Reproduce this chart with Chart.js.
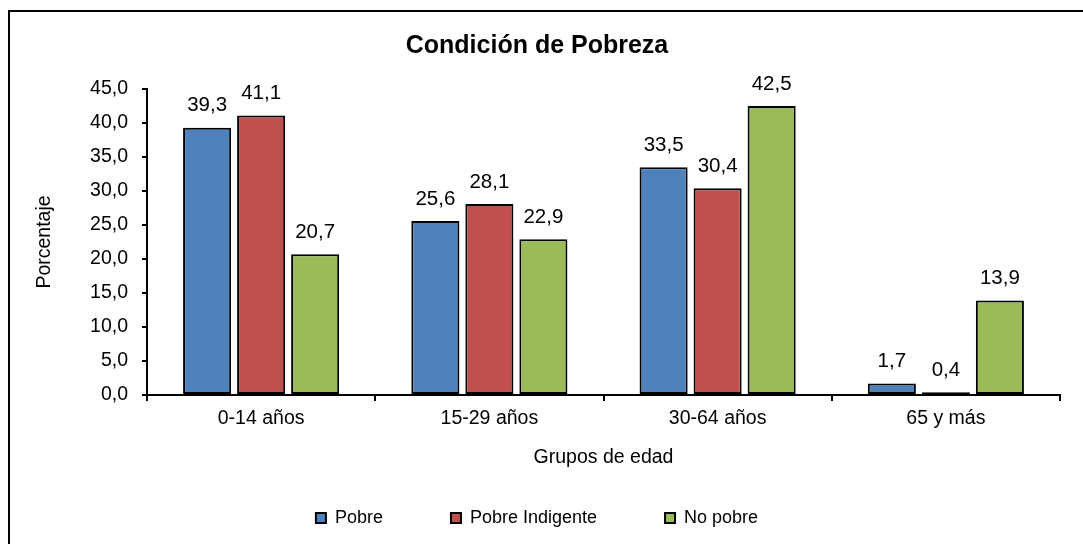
<!DOCTYPE html>
<html>
<head>
<meta charset="utf-8">
<script src="https://cdn.jsdelivr.net/npm/chart.js@4.4.1/dist/chart.umd.min.js"></script>
<style>
html, body { margin: 0; padding: 0; background: #fff; width: 1083px; height: 544px; overflow: hidden; }
#frame { position: absolute; left: 8px; top: 10px; width: 1120px; height: 600px; border: 2px solid #000; box-sizing: border-box; }
#wrap { position: absolute; left: 0; top: 0; width: 1083px; height: 544px; }
canvas { position: absolute; left: 0; top: 0; }
</style>
</head>
<body>
<div id="frame"></div>
<div id="wrap"><canvas id="c" width="1083" height="544"></canvas></div>
<script>
// ---- data ----
const categories = ['0-14 años', '15-29 años', '30-64 años', '65 y más'];
const seriesNames = ['Pobre', 'Pobre Indigente', 'No pobre'];
const pobre = [39.3, 25.6, 33.5, 1.7];
const pobreIndigente = [41.1, 28.1, 30.4, 0.4];
const noPobre = [20.7, 22.9, 42.5, 13.9];
const yTickValues = [0, 5, 10, 15, 20, 25, 30, 35, 40, 45];
const chartTitle = 'Condición de Pobreza';
const xTitle = 'Grupos de edad';
const yTitle = 'Porcentaje';

const FONT = '"Liberation Sans", Arial, Helvetica, sans-serif';
const fmt = v => Number(v).toFixed(1).replace('.', ',');

const valueLabels = {
  id: 'valueLabels',
  afterDatasetsDraw(chart) {
    const ctx = chart.ctx;
    ctx.save();
    ctx.font = '20.5px ' + FONT;
    ctx.fillStyle = '#000';
    ctx.textAlign = 'center';
    ctx.textBaseline = 'middle';
    chart.data.datasets.forEach((ds, i) => {
      const meta = chart.getDatasetMeta(i);
      meta.data.forEach((bar, j) => {
        ctx.fillText(fmt(ds.data[j]), bar.x, bar.y - 22);
      });
    });
    ctx.restore();
  }
};

Chart.defaults.font.family = FONT;
Chart.defaults.color = '#000';

const common = { borderColor: '#000', borderWidth: 2, borderSkipped: false,
                 categoryPercentage: 0.71, barPercentage: 0.89 };

new Chart(document.getElementById('c'), {
  type: 'bar',
  data: {
    labels: categories,
    datasets: [
      Object.assign({ label: seriesNames[0], data: pobre, backgroundColor: '#4F81BD' }, common),
      Object.assign({ label: seriesNames[1], data: pobreIndigente, backgroundColor: '#C0504D' }, common),
      Object.assign({ label: seriesNames[2], data: noPobre, backgroundColor: '#9BBB59' }, common)
    ]
  },
  options: {
    responsive: false,
    animation: false,
    devicePixelRatio: 1,
    layout: { padding: { left: 14, right: 23, top: 0, bottom: 7 } },
    plugins: {
      title: {
        display: true, text: chartTitle, color: '#000',
        font: { size: 25, weight: 'bold' },
        padding: { top: 31, bottom: 28 }
      },
      legend: {
        position: 'bottom',
        labels: { boxWidth: 10, boxHeight: 10, padding: 68, font: { size: 18 }, color: '#000' }
      },
      tooltip: { enabled: false }
    },
    scales: {
      x: {
        grid: { display: true, drawOnChartArea: false, drawTicks: true, tickLength: 6, color: '#000', lineWidth: 2, offset: true },
        border: { display: true, color: '#000', width: 2 },
        ticks: { padding: 6.3, font: { size: 19.5 }, color: '#000', maxRotation: 0 },
        title: { display: true, text: xTitle, color: '#000', font: { size: 19.5 }, padding: { top: 0, bottom: -28.7 } },
        afterFit: s => { s.height = 46; }
      },
      y: {
        min: 0, max: 45,
        afterBuildTicks: s => { s.ticks = yTickValues.map(v => ({ value: v })); },
        ticks: { padding: 14, font: { size: 19.5 }, color: '#000', callback: v => fmt(v) },
        grid: { drawOnChartArea: false, drawTicks: true, tickLength: 5, color: '#000', lineWidth: 2 },
        border: { display: true, color: '#000', width: 2 },
        title: { display: true, text: yTitle, color: '#000', font: { size: 19.5 }, padding: { top: 19.3, bottom: 0 } },
        afterFit: s => { s.width = 133; }
      }
    }
  },
  plugins: [valueLabels]
});
</script>
</body>
</html>
